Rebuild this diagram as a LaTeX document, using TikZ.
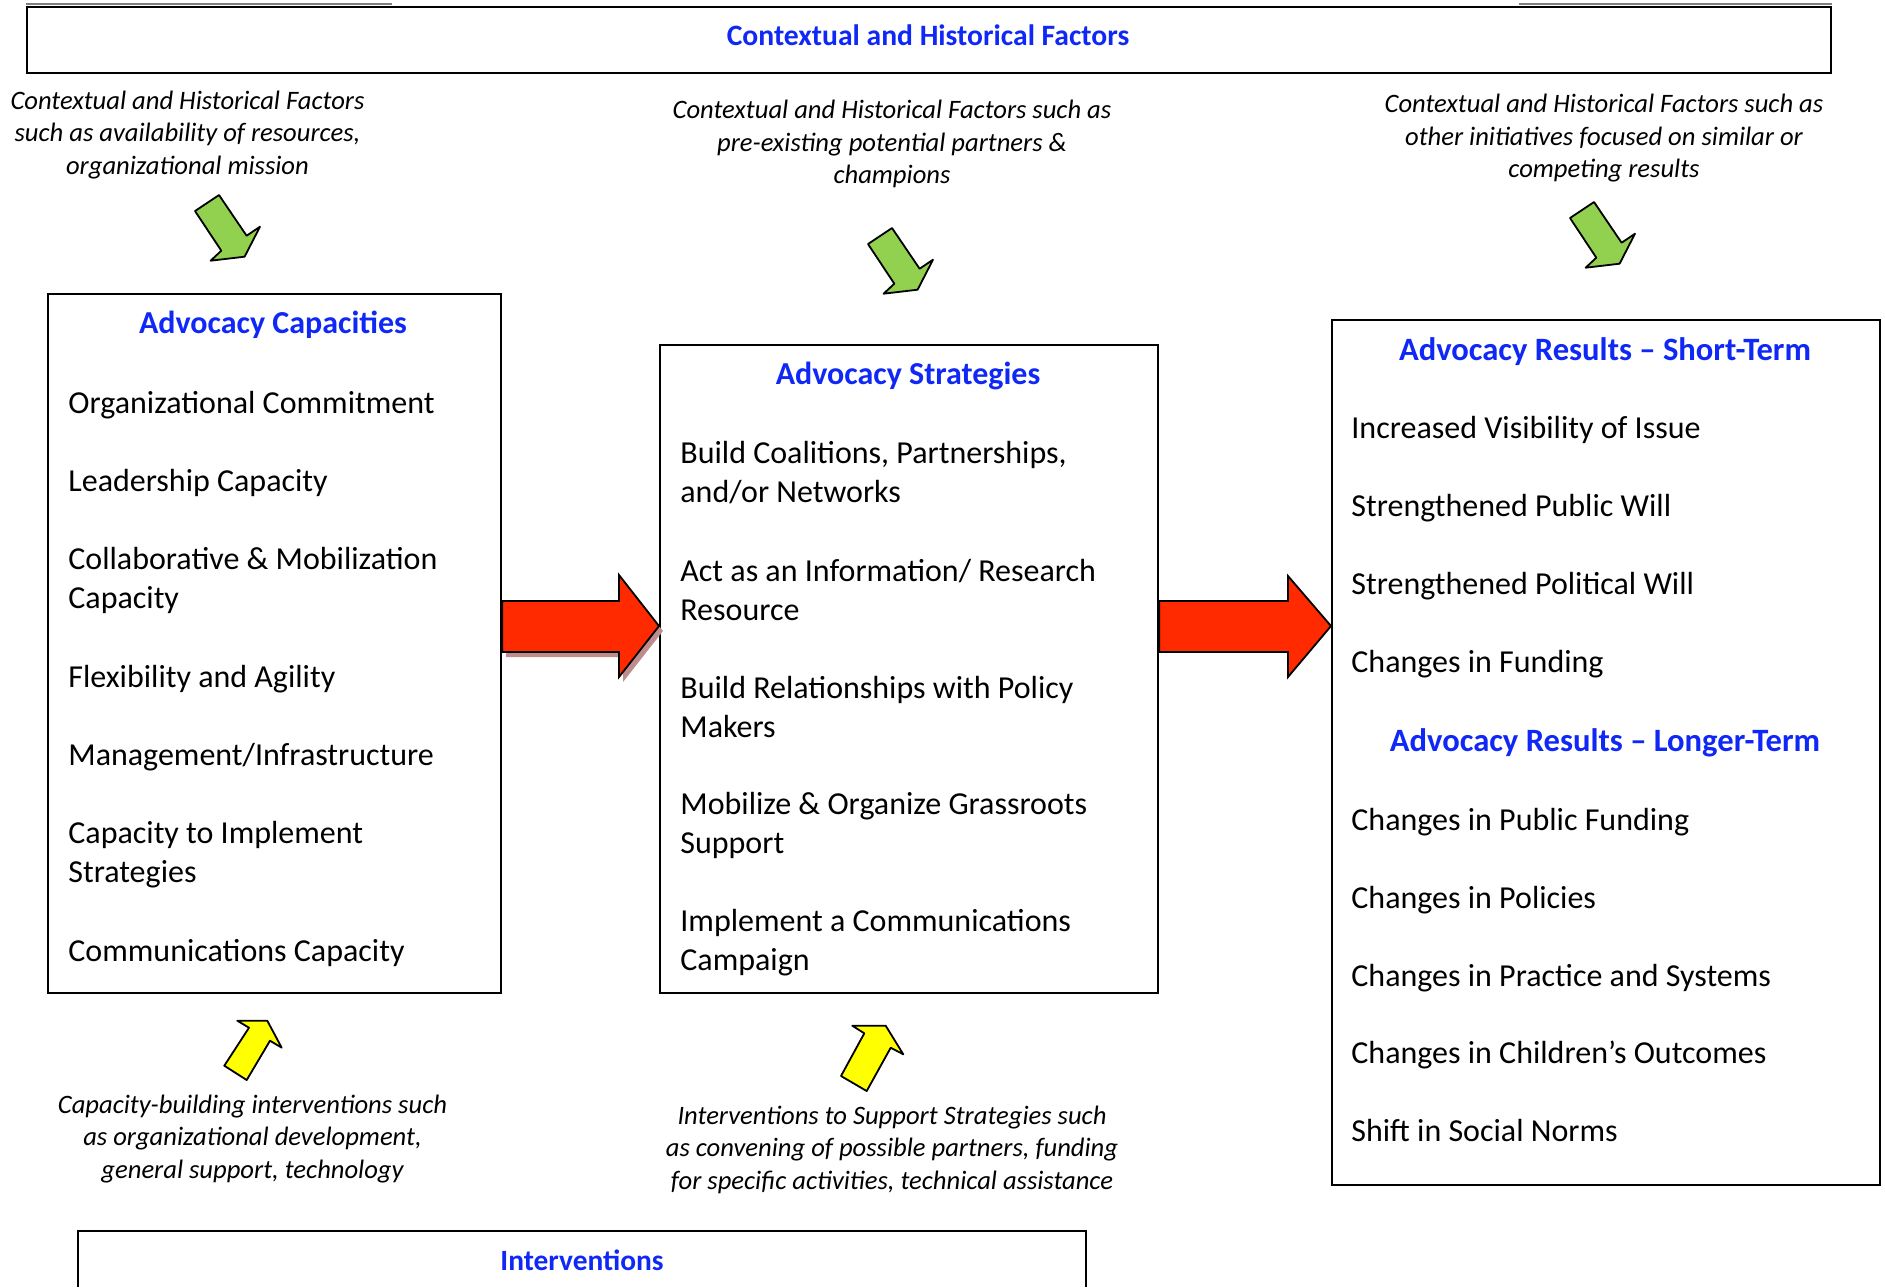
\documentclass[tikz,border=0pt]{standalone}
\usepackage{fontspec}
\setmainfont{Carlito}
\usetikzlibrary{calc}
\definecolor{ttlblue}{RGB}{15,40,245}
\definecolor{grn}{RGB}{146,208,80}
\definecolor{rd}{RGB}{255,42,0}
\definecolor{ylw}{RGB}{255,255,0}
\definecolor{shd}{RGB}{190,140,140}
\begin{document}
\begin{tikzpicture}[x=0.5pt,y=-0.5pt,
  box/.style={draw, line width=1.1pt, inner sep=0, anchor=north west},
  ttl/.style={font=\bfseries\fontsize{16}{19.5}\selectfont, text=ttlblue, anchor=base, inner sep=0},
  item/.style={font=\fontsize{16}{19.5}\selectfont, anchor=base west, inner sep=0, align=left},
  note/.style={font=\itshape\fontsize{13.3}{16.25}\selectfont, anchor=base, inner sep=0, align=center},
  garrow/.style={draw, fill=grn, line width=0.9pt, line join=round},
  yarrow/.style={draw, fill=ylw, line width=0.9pt, line join=round},
  rarrow/.style={draw, fill=rd, line width=0.9pt, line join=miter},
]
\useasboundingbox (0,0) rectangle (1885,1287);
% top box
\node[box, minimum width=902pt, minimum height=33pt] (ctx) at (26,6) {};
\draw[gray, line width=0.8pt] (ctx.north west) ++(0,-2) -- ++(366,0);
\draw[gray, line width=0.8pt] (ctx.north east) ++(0,-2) -- ++(-313,0);
\node[ttl, font=\bfseries\fontsize{14.8}{18}\selectfont] (ctxt) at (928,45) {Contextual and Historical Factors};

% notes top (anchor base = last line)
\node[note] (n1) at (187.5,174) {Contextual and Historical Factors\\such as availability of resources,\\organizational mission};
\node[note] (n2) at (892,183.6) {Contextual and Historical Factors such as\\pre-existing potential partners \&\\champions};
\node[note] (n3) at (1604,177.6) {Contextual and Historical Factors such as\\other initiatives focused on similar or\\competing results};

% green arrows
\draw[garrow, shift={(219,195)}] (0,0) -- (-24,16) -- (2.3,55.7) -- (-8.4,65.7) -- (25.6,61.7) -- (41,31.7) -- (27.6,40.7) -- cycle;
\draw[garrow, shift={(892,228)}] (0,0) -- (-24,16) -- (2.3,55.7) -- (-8.4,65.7) -- (25.6,61.7) -- (41,31.7) -- (27.6,40.7) -- cycle;
\draw[garrow, shift={(1594,202)}] (0,0) -- (-24,16) -- (2.3,55.7) -- (-8.4,65.7) -- (25.6,61.7) -- (41,31.7) -- (27.6,40.7) -- cycle;

% boxes
\node[box, minimum width=226.5pt, minimum height=349.5pt] (cap) at (47,293) {};
\node[box, minimum width=249pt, minimum height=324pt] (str) at (659,344) {};
\node[box, minimum width=274pt, minimum height=432.5pt] (res) at (1331,319) {};

% left box text
\node[ttl] (capt) at (273,333) {Advocacy Capacities};
\node[item] (c1) at (68,413) {Organizational Commitment};
\node[item] (c2) at (68,491) {Leadership Capacity};
\node[item] (c3) at (68,608) {Collaborative \& Mobilization\\Capacity};
\node[item] (c4) at (68,687) {Flexibility and Agility};
\node[item] (c5) at (68,765) {Management/Infrastructure};
\node[item] (c6) at (68,882) {Capacity to Implement\\Strategies};
\node[item] (c7) at (68,961) {Communications Capacity};

% middle box text
\node[ttl] (strt) at (908,384) {Advocacy Strategies};
\node[item] (s1) at (680,502) {Build Coalitions, Partnerships,\\and/or Networks};
\node[item] (s2) at (680,620) {Act as an Information/ Research\\Resource};
\node[item] (s3) at (680,737) {Build Relationships with Policy\\Makers};
\node[item] (s4) at (680,853) {Mobilize \& Organize Grassroots\\Support};
\node[item] (s5) at (680,970) {Implement a Communications\\Campaign};

% right box text
\node[ttl, font=\bfseries\fontsize{16.3}{19.5}\selectfont] (rest) at (1605,360) {Advocacy Results – Short-Term};
\node[item] (r1) at (1351,438) {Increased Visibility of Issue};
\node[item] (r2) at (1351,516) {Strengthened Public Will};
\node[item] (r3) at (1351,594) {Strengthened Political Will};
\node[item] (r4) at (1351,672) {Changes in Funding};
\node[ttl, font=\bfseries\fontsize{16.3}{19.5}\selectfont] (resl) at (1605,751) {Advocacy Results – Longer-Term};
\node[item] (r5) at (1351,830) {Changes in Public Funding};
\node[item] (r6) at (1351,908) {Changes in Policies};
\node[item] (r7) at (1351,986) {Changes in Practice and Systems};
\node[item] (r8) at (1351,1063) {Changes in Children’s Outcomes};
\node[item] (r9) at (1351,1141) {Shift in Social Norms};

% red arrows
\fill[shd] ($(cap.east |- 0,601)+(4,5)$) -- (623,606) -- (623,580) -- ($(str.west |- 0,626)+(4,5)$) -- (623,682) -- (623,657) -- ($(cap.east |- 0,652)+(4,5)$) -- cycle;
\draw[rarrow] (cap.east |- 0,601) -- (619,601) -- (619,575) -- (str.west |- 0,626) -- (619,677) -- (619,652) -- (cap.east |- 0,652) -- cycle;
\draw[rarrow] (str.east |- 0,601) -- (1288,601) -- (1288,576) -- (res.west |- 0,626) -- (1288,677) -- (1288,652) -- (str.east |- 0,652) -- cycle;

% yellow arrows
\draw[yarrow, shift={(237.3,1020.7)}] (0,0) -- (30,0) -- (44.4,27) -- (32.7,20) -- (9.4,59.3) -- (-13,45) -- (11.7,7) -- cycle;
\draw[yarrow, shift={(852.3,1025.7)}] (0,0) -- (33.4,0) -- (51,28.6) -- (38.4,22) -- (14.4,65.3) -- (-11.3,50.3) -- (12,7.6) -- cycle;

% bottom notes
\node[note] (b1) at (252.5,1178) {Capacity-building interventions such\\as organizational development,\\general support, technology};
\node[note] (b2) at (892,1189) {Interventions to Support Strategies such\\as convening of possible partners, funding\\for specific activities, technical assistance};

% bottom box
\coordinate (ibl) at (78,1287);
\coordinate (ibr) at (1086,1287);
\draw[line width=1.4pt] (ibl) -- (78,1231) -- (1086,1231) -- (ibr);
\node[ttl, font=\bfseries\fontsize{14.7}{18}\selectfont] (intt) at (582,1270) {Interventions};
\end{tikzpicture}
\end{document}
